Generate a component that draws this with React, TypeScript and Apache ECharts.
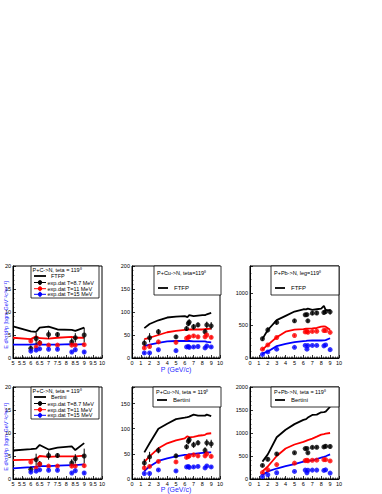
import React, { useEffect, useRef } from "react";
import * as echarts from "echarts";

// ---------- data ----------
const C_MODEL_P = [5, 6, 6.3, 6.5, 7, 7.5, 8.3, 8.5, 9];
const HEAVY_MODEL_P = [1.4, 2, 3, 4, 5, 6, 6.3, 6.5, 7, 7.5, 8, 8.3, 8.5, 9];
const C_EXP_P = [6, 6.3, 6.5, 7, 7.5, 8.3, 8.5, 9];
const HEAVY_EXP_P = [1.4, 2, 3, 5, 6.2, 6.4, 6.5, 7, 7.5, 8.3, 8.5, 9];

// Carbon experiment (T=8.7, 11, 15 MeV)
const C_EXP_87 = [2.1, 4.2, 3.3, 5.1, 5.1, 3.5, 4.4, 5.0];
const C_ERR_87 = [0.6, 1.3, 0.6, 0.9, 0.5, 0.8, 1.0, 1.6];
const C_EXP_11 = [3.7, 2.4, 3.2, 2.8, 2.8, 2.8, 2.8, 2.9];
const C_ERR_11 = [0.3, 0.3, 0.3, 0.2, 0.2, 0.3, 0.3, 0.4];
const C_EXP_15 = [1.5, 1.7, 2.0, 1.9, 1.9, 1.3, 1.8, 1.3];
const C_ERR_15 = [0.2, 0.2, 0.2, 0.2, 0.2, 0.2, 0.2, 0.3];

// Copper experiment
const CU_EXP_87 = [32, 44, 57, 46, 64, 75, 78, 68, 72, 57, 72, 70];
const CU_ERR_87 = [8, 10, 6, 4, 5, 6, 6, 6, 5, 6, 7, 8];
const CU_EXP_11 = [22, 25, 35, 34, 43, 45, 46, 48, 46, 46, 50, 45];
const CU_ERR_11 = [3, 3, 3, 3, 3, 3, 3, 3, 3, 3, 3, 3];
const CU_EXP_15 = [11, 11, 18, 16, 24, 25, 23, 24, 25, 22, 26, 24];
const CU_ERR_15 = [2, 2, 2, 2, 2, 2, 2, 2, 2, 2, 2, 2];

// Lead experiment
const PB_EXP_87 = [295, 430, 545, 570, 662, 665, 570, 687, 690, 697, 712, 707];
const PB_ERR_87 = [30, 40, 35, 25, 25, 25, 25, 30, 30, 30, 40, 40];
const PB_EXP_11 = [136, 200, 314, 345, 400, 407, 395, 407, 410, 421, 421, 393];
const PB_ERR_11 = [15, 15, 15, 15, 15, 15, 15, 15, 15, 15, 15, 15];
const PB_EXP_15 = [55, 93, 136, 164, 193, 136, 190, 193, 193, 186, 200, 128];
const PB_ERR_15 = [10, 10, 10, 10, 10, 10, 10, 10, 10, 10, 10, 10];

// FTFP model
const C_FTFP_87 = [6.9, 5.8, 5.7, 6.6, 6.8, 6.2, 6.1, 5.9, 6.6];
const C_FTFP_11 = [4.4, 4.1, 4.7, 4.3, 4.2, 4.4, 4.6, 4.4, 4.4];
const C_FTFP_15 = [2.9, 2.9, 3.0, 2.9, 2.9, 2.9, 3.0, 2.9, 3.0];
const CU_FTFP_87 = [65, 74, 82, 88, 90, 91, 89, 93, 91, 92, 93, 93, 95, 98];
const CU_FTFP_11 = [41, 44, 50, 56, 59, 61, 61, 62, 62, 62, 62, 63, 63, 64];
const CU_FTFP_15 = [26, 29, 33, 36, 37, 37, 37, 37, 36, 36, 36, 36, 35, 34];
const PB_FTFP_87 = [293, 429, 580, 646, 712, 747, 745, 757, 737, 747, 757, 798, 737, 732];
const PB_FTFP_11 = [131, 202, 318, 404, 434, 444, 448, 450, 454, 460, 480, 485, 480, 434];
const PB_FTFP_15 = [66, 101, 182, 217, 242, 258, 262, 265, 268, 268, 268, 270, 275, 303];

// Bertini model
const C_BERT_87 = [6.2, 6.5, 6.6, 7.4, 6.4, 6.8, 7.1, 6.3, 7.8];
const C_BERT_11 = [4.1, 4.2, 4.3, 5.0, 4.8, 4.9, 4.9, 4.9, 5.1];
const C_BERT_15 = [2.3, 2.6, 2.7, 2.8, 2.8, 2.9, 3.0, 3.0, 3.2];
const CU_BERT_87 = [53, 71, 100, 110, 119, 122, 123, 124, 128, 126, 126, 126, 128, 125];
const CU_BERT_11 = [34, 45, 61, 71, 77, 81, 85, 83, 84, 86, 87, 88, 90, 91];
const CU_BERT_15 = [16, 25, 36, 41, 45, 48, 48, 49, 50, 51, 52, 52, 53, 53];
const PB_BERT_87 = [378, 535, 907, 1071, 1193, 1285, 1300, 1335, 1392, 1400, 1450, 1455, 1464, 1571];
const PB_BERT_11 = [164, 271, 500, 664, 750, 807, 830, 845, 878, 920, 964, 975, 985, 1000];
const PB_BERT_15 = [86, 164, 228, 278, 321, 378, 390, 395, 407, 435, 464, 480, 495, 535];

// axes
const C_X_RANGE = [5, 10, 0.5];
const HEAVY_X_RANGE = [0, 10, 1];
const Y_RANGES = [
  [20, 5],
  [200, 50],
  [1410, 500],
  [20, 5],
  [183, 50],
  [2000, 500],
];

const MODEL_NAMES = ["FTFP", "FTFP", "FTFP", "Bertini", "Bertini", "Bertini"];
const PANEL_TITLES = [
  "P+C->N, teta = 119\u2070",
  "P+Cu->N, teta=119\u2070",
  "P+Pb->N, leg=119\u2070",
  "P+C->N, teta = 119\u2070",
  "P+Cu->N, teta = 119\u2070",
  "P+Pb->N, teta = 119\u2070",
];
const EXP_LABELS = ["exp.dat T=8.7 MeV", "exp.dat T=11 MeV", "exp.dat T=15 MeV"];
const Y_TITLE = "E d\u00b3\u03c3/d\u00b3p [bgm GeV\u207b\u00b2c\u00b3sr\u207b\u00b9]";
const X_TITLE = "P (GeV/c)";

// ---------- styling / layout ----------
const COLORS = ["#000000", "#ff0000", "#0000ff"];
const TITLE_BLUE = "#2a2aff";
const FONT = "'Liberation Sans', Arial, sans-serif";
const COL_LEFT = [13, 132, 250];
const COL_W = [89, 88, 89];
const ROW_TOP = [266, 387];
const ROW_H = 92;

const PANELS = [
  { modelP: C_MODEL_P, expP: C_EXP_P, model: [C_FTFP_87, C_FTFP_11, C_FTFP_15], exp: [C_EXP_87, C_EXP_11, C_EXP_15], err: [C_ERR_87, C_ERR_11, C_ERR_15], xr: C_X_RANGE },
  { modelP: HEAVY_MODEL_P, expP: HEAVY_EXP_P, model: [CU_FTFP_87, CU_FTFP_11, CU_FTFP_15], exp: [CU_EXP_87, CU_EXP_11, CU_EXP_15], err: [CU_ERR_87, CU_ERR_11, CU_ERR_15], xr: HEAVY_X_RANGE },
  { modelP: HEAVY_MODEL_P, expP: HEAVY_EXP_P, model: [PB_FTFP_87, PB_FTFP_11, PB_FTFP_15], exp: [PB_EXP_87, PB_EXP_11, PB_EXP_15], err: [PB_ERR_87, PB_ERR_11, PB_ERR_15], xr: HEAVY_X_RANGE },
  { modelP: C_MODEL_P, expP: C_EXP_P, model: [C_BERT_87, C_BERT_11, C_BERT_15], exp: [C_EXP_87, C_EXP_11, C_EXP_15], err: [C_ERR_87, C_ERR_11, C_ERR_15], xr: C_X_RANGE },
  { modelP: HEAVY_MODEL_P, expP: HEAVY_EXP_P, model: [CU_BERT_87, CU_BERT_11, CU_BERT_15], exp: [CU_EXP_87, CU_EXP_11, CU_EXP_15], err: [CU_ERR_87, CU_ERR_11, CU_ERR_15], xr: HEAVY_X_RANGE },
  { modelP: HEAVY_MODEL_P, expP: HEAVY_EXP_P, model: [PB_BERT_87, PB_BERT_11, PB_BERT_15], exp: [PB_EXP_87, PB_EXP_11, PB_EXP_15], err: [PB_ERR_87, PB_ERR_11, PB_ERR_15], xr: HEAVY_X_RANGE },
];

function axisCommon() {
  return {
    axisLine: { show: true, onZero: false, lineStyle: { color: "#000", width: 1 } },
    axisTick: { show: true, inside: true, length: 3, lineStyle: { color: "#000", width: 0.8 } },
    minorTick: { show: true, splitNumber: 5, length: 1.5, lineStyle: { color: "#000", width: 0.6 } },
    splitLine: { show: false },
  };
}

function txt(x: number, y: number, text: string, opts: any = {}) {
  return {
    type: "text",
    x,
    y,
    z: 101,
    silent: true,
    rotation: opts.rotation || 0,
    style: {
      text,
      fill: opts.fill || "#000",
      fontSize: opts.fontSize || 5.5,
      fontFamily: FONT,
      align: opts.align || "left",
      verticalAlign: "middle",
    },
  };
}

function hline(x1: number, x2: number, y: number, color: string, w: number) {
  return { type: "line", z: 101, silent: true, shape: { x1, y1: y, x2, y2: y }, style: { stroke: color, lineWidth: w } };
}

function buildGraphics() {
  const g: any[] = [];
  for (let r = 0; r < 2; r++) {
    const off = ROW_TOP[r] - ROW_TOP[0];
    // carbon panel legend
    g.push({ type: "rect", z: 100, silent: true, shape: { x: 31, y: 266 + off, width: 68, height: 32 }, style: { fill: "#fff", stroke: "#000", lineWidth: 0.8 } });
    g.push(txt(32.5, 269.5 + off, PANEL_TITLES[r * 3]));
    g.push(hline(34, 46, 276 + off, "#000", 1.8));
    g.push(txt(51, 276 + off, MODEL_NAMES[r * 3]));
    const ys = [282.5, 288.7, 294.3];
    for (let k = 0; k < 3; k++) {
      const y = ys[k] + off;
      g.push(hline(34, 46, y, COLORS[k], 1));
      g.push({ type: "line", z: 101, silent: true, shape: { x1: 40, y1: y - 2.5, x2: 40, y2: y + 2.5 }, style: { stroke: COLORS[k], lineWidth: 1 } });
      g.push({ type: "circle", z: 102, silent: true, shape: { cx: 40, cy: y, r: 2.2 }, style: { fill: COLORS[k] } });
      g.push(txt(47.5, y, EXP_LABELS[k]));
    }
  }
  // Cu and Pb legends
  const boxes = [
    { x: 154, y: 266, h: 29, ty: 273, ly: 288, lx: 158, title: PANEL_TITLES[1], name: MODEL_NAMES[1] },
    { x: 271, y: 266, h: 29, ty: 273, ly: 288, lx: 275, title: PANEL_TITLES[2], name: MODEL_NAMES[2] },
    { x: 153, y: 387, h: 20, ty: 391.5, ly: 400, lx: 157, title: PANEL_TITLES[4], name: MODEL_NAMES[4] },
    { x: 271, y: 387, h: 20, ty: 391.5, ly: 400, lx: 275, title: PANEL_TITLES[5], name: MODEL_NAMES[5] },
  ];
  const rights = [221, 339, 221, 339];
  boxes.forEach((b, i) => {
    g.push({ type: "rect", z: 100, silent: true, shape: { x: b.x, y: b.y, width: rights[i] - b.x, height: b.h }, style: { fill: "#fff", stroke: "#000", lineWidth: 0.8 } });
    g.push(txt(b.x + 3, b.ty, b.title));
    g.push(hline(b.lx, b.lx + 10, b.ly, "#000", 1.8));
    g.push(txt(b.lx + 16, b.ly, b.name, { fontSize: 6 }));
  });
  // axis titles
  g.push(txt(6, 315, Y_TITLE, { rotation: Math.PI / 2, align: "center", fill: TITLE_BLUE, fontSize: 5.5 }));
  g.push(txt(6, 437, Y_TITLE, { rotation: Math.PI / 2, align: "center", fill: TITLE_BLUE, fontSize: 5.5 }));
  g.push(txt(176, 369.5, X_TITLE, { align: "center", fill: TITLE_BLUE, fontSize: 7 }));
  g.push(txt(176, 489.5, X_TITLE, { align: "center", fill: TITLE_BLUE, fontSize: 7 }));
  return g;
}

function buildOption() {
  const grid: any[] = [];
  const xAxis: any[] = [];
  const yAxis: any[] = [];
  const series: any[] = [];
  PANELS.forEach((p, i) => {
    const row = i < 3 ? 0 : 1;
    const col = i % 3;
    grid.push({
      left: COL_LEFT[col],
      top: ROW_TOP[row],
      width: COL_W[col],
      height: ROW_H,
      show: true,
      borderColor: "#000",
      borderWidth: 1,
      backgroundColor: "transparent",
      containLabel: false,
      outerBoundsMode: "none",
    });
    const [xmin, xmax, xstep] = p.xr;
    xAxis.push({
      gridIndex: i,
      type: "value",
      min: xmin,
      max: xmax,
      interval: xstep,
      ...axisCommon(),
      axisLabel: { fontSize: 5.5, color: "#000", margin: 2, fontFamily: FONT, formatter: (v: number) => String(Math.round(v * 10) / 10) },
    });
    const [ymax, ystep] = Y_RANGES[i];
    yAxis.push({
      gridIndex: i,
      type: "value",
      min: 0,
      max: ymax,
      interval: ystep,
      ...axisCommon(),
      axisLabel: {
        fontSize: 5.5,
        color: "#000",
        margin: 2,
        fontFamily: FONT,
        formatter: (v: number) => (Math.abs(v % ystep) < 1e-9 ? String(v) : ""),
      },
    });
    for (let k = 0; k < 3; k++) {
      series.push({
        type: "line",
        xAxisIndex: i,
        yAxisIndex: i,
        data: p.modelP.map((x, j) => [x, p.model[k][j]]),
        symbol: "none",
        showSymbol: false,
        lineStyle: { color: COLORS[k], width: 1.8 },
        z: 2,
      });
    }
    for (let k = 0; k < 3; k++) {
      const color = COLORS[k];
      series.push({
        type: "custom",
        xAxisIndex: i,
        yAxisIndex: i,
        encode: { x: 0, y: [1, 2] },
        data: p.expP.map((x, j) => [x, p.exp[k][j] - p.err[k][j], p.exp[k][j] + p.err[k][j]]),
        renderItem: (params: any, api: any) => {
          const a = api.coord([api.value(0), api.value(1)]);
          const b = api.coord([api.value(0), api.value(2)]);
          return { type: "line", shape: { x1: a[0], y1: a[1], x2: b[0], y2: b[1] }, style: { stroke: color, lineWidth: 1 } };
        },
        z: 3,
      });
      series.push({
        type: "scatter",
        xAxisIndex: i,
        yAxisIndex: i,
        data: p.expP.map((x, j) => [x, p.exp[k][j]]),
        symbol: "circle",
        symbolSize: 5,
        itemStyle: { color },
        z: 4,
      });
    }
  });
  return {
    animation: false,
    backgroundColor: "#ffffff",
    textStyle: { fontFamily: FONT },
    grid,
    xAxis,
    yAxis,
    series,
    graphic: { elements: buildGraphics() },
  };
}

export default function App() {
  const ref = useRef<HTMLDivElement>(null);
  useEffect(() => {
    if (!ref.current) return;
    const chart = echarts.init(ref.current, null, { renderer: "svg" });
    chart.setOption(buildOption() as any);
    return () => chart.dispose();
  }, []);
  return <div ref={ref} style={{ position: "absolute", left: 0, top: 0, width: 382, height: 494 }} />;
}
